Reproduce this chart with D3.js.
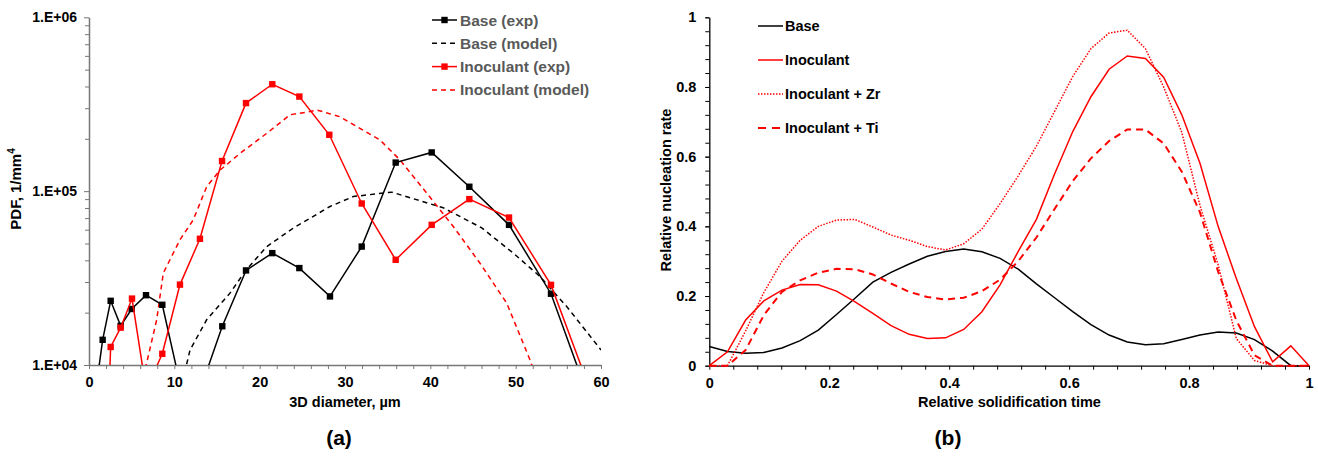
<!DOCTYPE html>
<html>
<head>
<meta charset="utf-8">
<script src="https://cdn.jsdelivr.net/npm/d3@7"></script>
<style>
  body { margin: 0; background: #fff; }
  svg text { font-family: "Liberation Sans", Arial, sans-serif; font-weight: bold; }
</style>
</head>
<body>
<div id="chart"></div>
<script>
// ---- panel (a): PDF vs 3D diameter (log y) ----
var baseExpX = [0.7, 1.6, 2.54, 3.71, 5.0, 6.68, 8.59, 10.5, 12.9, 15.62, 18.4, 21.48, 24.65, 28.24, 31.96, 35.94, 40.16, 44.57, 49.22, 54.14, 59.0];
var baseExpY = [6600, 13960, 23400, 16800, 21000, 25200, 22200, 8500, 6900, 16700, 35000, 44000, 36100, 24800, 48000, 146000, 167000, 106000, 64000, 25700, 5650];

var inocExpX = [1.6, 2.54, 3.71, 5.04, 6.7, 8.59, 10.66, 13.0, 15.59, 18.4, 21.48, 24.65, 28.16, 31.96, 35.94, 40.16, 44.57, 49.22, 54.14, 59.0];
var inocExpY = [800, 12700, 16400, 24100, 7200, 11600, 29000, 53200, 149000, 321000, 412000, 350000, 211000, 84900, 40300, 64000, 90000, 70500, 28900, 6600];

var baseModelX = [11.2, 11.84, 13.79, 16.52, 18.28, 20.83, 23.94, 28.24, 30.97, 35.47, 41.52, 46.02, 49.72, 52.85, 55.98, 60.0];
var baseModelY = [9000, 12200, 18200, 25900, 34500, 48000, 61300, 81600, 93100, 98700, 80200, 61500, 44000, 32300, 21700, 12200];

var inocModelX = [6.6, 7.93, 8.71, 10.66, 12.22, 13.79, 15.35, 17.7, 20.83, 23.56, 25.9, 26.7, 29.4, 34.1, 36.45, 39.58, 42.69, 45.82, 48.95, 51.68, 52.2];
var inocModelY = [9500, 18200, 33800, 52500, 68400, 106000, 132000, 165000, 215000, 275000, 287000, 293000, 268000, 197000, 151000, 97400, 62600, 38500, 22700, 10700, 9000];

var aXTicks = [0, 10, 20, 30, 40, 50, 60];
var aYTicks = [1e4, 1e5, 1e6];
var aYLabels = ["1.E+04", "1.E+05", "1.E+06"];
var aLegend = ["Base (exp)", "Base (model)", "Inoculant (exp)", "Inoculant (model)"];

// ---- panel (b): relative nucleation rate ----
var timeSteps = d3.range(34).map(function(i) { return i / 33; });
var baseRate = [0.055, 0.041, 0.036, 0.038, 0.051, 0.072, 0.102, 0.147, 0.193, 0.240, 0.268, 0.292, 0.314, 0.328, 0.335, 0.327, 0.308, 0.277, 0.235, 0.195, 0.155, 0.118, 0.088, 0.068, 0.060, 0.063, 0.075, 0.088, 0.097, 0.094, 0.075, 0.042, 0, 0];
var inocRate = [0, 0.040, 0.131, 0.186, 0.217, 0.233, 0.232, 0.214, 0.184, 0.150, 0.115, 0.090, 0.078, 0.080, 0.104, 0.155, 0.232, 0.328, 0.420, 0.550, 0.672, 0.772, 0.851, 0.889, 0.882, 0.828, 0.720, 0.581, 0.400, 0.250, 0.112, 0.011, 0.057, 0];
var zrRate = [0, 0, 0.100, 0.210, 0.300, 0.360, 0.400, 0.418, 0.420, 0.398, 0.375, 0.360, 0.342, 0.332, 0.350, 0.392, 0.465, 0.545, 0.630, 0.730, 0.830, 0.910, 0.955, 0.963, 0.910, 0.800, 0.670, 0.460, 0.290, 0.078, 0.015, 0, 0, 0];
var tiRate = [0, 0, 0.045, 0.145, 0.212, 0.245, 0.267, 0.278, 0.277, 0.262, 0.236, 0.212, 0.197, 0.190, 0.195, 0.214, 0.247, 0.300, 0.368, 0.450, 0.530, 0.595, 0.645, 0.678, 0.678, 0.638, 0.557, 0.440, 0.270, 0.130, 0.030, 0, 0, 0];

var bTicks = [0, 0.2, 0.4, 0.6, 0.8, 1];
var bLegend = ["Base", "Inoculant", "Inoculant + Zr", "Inoculant + Ti"];

var W = 1318, H = 457;
var svg = d3.select("#chart").append("svg").attr("width", W).attr("height", H);

function zip(xs, ys) { return xs.map(function(x, i) { return [x, ys[i]]; }); }

// ================= panel (a) =================
var xa = d3.scaleLinear().domain([0, 60]).range([89, 601]);
var ya = d3.scaleLog().domain([1e4, 1e6]).range([365, 17.3]);
var axisColA = "#777";

svg.append("clipPath").attr("id", "clipA")
  .append("rect").attr("x", 89).attr("y", 17).attr("width", 512).attr("height", 348);

// minor y ticks
var minorLog = [];
[1e4, 1e5].forEach(function(d) { for (var k = 2; k <= 9; k++) minorLog.push(d * k); });
svg.append("g").attr("transform", "translate(89,0)")
  .call(d3.axisLeft(ya).tickValues(minorLog).tickFormat("").tickSize(4).tickSizeOuter(0))
  .call(function(g) { g.selectAll("line").attr("stroke", axisColA); g.select(".domain").remove(); });

var gya = svg.append("g").attr("transform", "translate(89,0)")
  .call(d3.axisLeft(ya).tickValues(aYTicks).tickFormat(function(d, i) { return aYLabels[i]; })
    .tickSize(5).tickSizeOuter(0).tickPadding(7));
gya.select(".domain").attr("stroke", axisColA).attr("stroke-width", 1.5);
gya.selectAll("line").attr("stroke", axisColA);
gya.selectAll("text").attr("font-size", 14).attr("fill", "#000");

var gxa = svg.append("g").attr("transform", "translate(0,365)")
  .call(d3.axisBottom(xa).tickValues(d3.range(0, 61, 2))
    .tickFormat(function(d) { return aXTicks.indexOf(d) >= 0 ? d : ""; })
    .tickSize(4).tickSizeOuter(0).tickPadding(7.5));
gxa.select(".domain").attr("stroke", axisColA).attr("stroke-width", 1.5);
gxa.selectAll("line").attr("stroke", axisColA);
gxa.selectAll("text").attr("font-size", 14.5).attr("fill", "#000");

var lineA = d3.line().x(function(d) { return xa(d[0]); }).y(function(d) { return ya(d[1]); });
var plotA = svg.append("g").attr("clip-path", "url(#clipA)");

var seriesA = [
  { pts: zip(baseModelX, baseModelY), color: "#000", dash: "5,4", marker: false },
  { pts: zip(inocModelX, inocModelY), color: "#ff0000", dash: "5,4", marker: false },
  { pts: zip(baseExpX, baseExpY), color: "#000", dash: null, marker: true },
  { pts: zip(inocExpX, inocExpY), color: "#ff0000", dash: null, marker: true }
];
seriesA.forEach(function(s) {
  plotA.append("path").datum(s.pts)
    .attr("d", lineA).attr("fill", "none")
    .attr("stroke", s.color).attr("stroke-width", 1.5)
    .attr("stroke-dasharray", s.dash);
  if (s.marker) {
    plotA.selectAll(null).data(s.pts).enter().append("rect")
      .attr("x", function(d) { return xa(d[0]) - 3.2; })
      .attr("y", function(d) { return ya(d[1]) - 3.2; })
      .attr("width", 6.4).attr("height", 6.4)
      .attr("fill", s.color);
  }
});

// legend (a)
var legA = [
  { color: "#000", dash: null, marker: true },
  { color: "#000", dash: "5,4", marker: false },
  { color: "#ff0000", dash: null, marker: true },
  { color: "#ff0000", dash: "5,4", marker: false }
];
legA.forEach(function(l, i) {
  var y = 20 + i * 23.3;
  svg.append("line").attr("x1", 432).attr("x2", 457).attr("y1", y).attr("y2", y)
    .attr("stroke", l.color).attr("stroke-width", 1.5).attr("stroke-dasharray", l.dash);
  if (l.marker) {
    svg.append("rect").attr("x", 444.5 - 3.2).attr("y", y - 3.2).attr("width", 6.4).attr("height", 6.4).attr("fill", l.color);
  }
  svg.append("text").attr("x", 460).attr("y", y).attr("dy", "0.36em")
    .attr("font-size", 15.5).attr("fill", "#595959").text(aLegend[i]);
});

// titles (a)
var ta = svg.append("text").attr("transform", "translate(21,189) rotate(-90)")
  .attr("text-anchor", "middle").attr("font-size", 15).attr("fill", "#000");
ta.append("tspan").text("PDF, 1/mm");
ta.append("tspan").attr("font-size", 10).attr("dy", "-6").text("4");
svg.append("text").attr("x", 345).attr("y", 402).attr("dy", "0.36em").attr("text-anchor", "middle")
  .attr("font-size", 14.5).text("3D diameter, µm");
svg.append("text").attr("x", 339).attr("y", 437).attr("dy", "0.36em").attr("text-anchor", "middle")
  .attr("font-size", 21).text("(a)");

// ================= panel (b) =================
var xb = d3.scaleLinear().domain([0, 1]).range([709.3, 1309]);
var yb = d3.scaleLinear().domain([0, 1]).range([365.7, 17.3]);

svg.append("g").attr("transform", "translate(709.3,0)")
  .call(d3.axisLeft(yb).tickValues(d3.range(0, 1.001, 0.04)).tickFormat("").tickSize(4).tickSizeOuter(0))
  .call(function(g) { g.select(".domain").remove(); });

var gyb = svg.append("g").attr("transform", "translate(709.3,0)")
  .call(d3.axisLeft(yb).tickValues(bTicks).tickFormat(d3.format("~g")).tickSize(4).tickSizeOuter(0).tickPadding(9));
gyb.select(".domain").attr("stroke-width", 1.3);
gyb.selectAll("text").attr("font-size", 14.5);

var gxb = svg.append("g").attr("transform", "translate(0,365.7)")
  .call(d3.axisBottom(xb).tickValues(d3.range(0, 1.001, 0.04))
    .tickFormat(function(d) {
      var r = Math.round(d * 100) / 100;
      return bTicks.indexOf(r) >= 0 ? d3.format("~g")(r) : "";
    })
    .tickSize(4).tickSizeOuter(0).tickPadding(8));
gxb.select(".domain").attr("stroke-width", 1.3);
gxb.selectAll("text").attr("font-size", 14.5);

var lineB = d3.line().x(function(d) { return xb(d[0]); }).y(function(d) { return yb(d[1]); });

var seriesB = [
  { vals: baseRate, color: "#000", dash: null, w: 1.5 },
  { vals: zrRate, color: "#ff0000", dash: "1.5,1.5", w: 1.5 },
  { vals: tiRate, color: "#ff0000", dash: "7,5", w: 2 },
  { vals: inocRate, color: "#ff0000", dash: null, w: 1.5 }
];
seriesB.forEach(function(s) {
  svg.append("path").datum(zip(timeSteps, s.vals))
    .attr("d", lineB).attr("fill", "none")
    .attr("stroke", s.color).attr("stroke-width", s.w)
    .attr("stroke-dasharray", s.dash);
});

var legB = [
  { color: "#000", dash: null, w: 1.5 },
  { color: "#ff0000", dash: null, w: 1.5 },
  { color: "#ff0000", dash: "1.5,1.5", w: 1.5 },
  { color: "#ff0000", dash: "8,6", w: 2 }
];
legB.forEach(function(l, i) {
  var y = 26 + i * 34;
  svg.append("line").attr("x1", 758).attr("x2", 783).attr("y1", y).attr("y2", y)
    .attr("stroke", l.color).attr("stroke-width", l.w).attr("stroke-dasharray", l.dash);
  svg.append("text").attr("x", 785).attr("y", y).attr("dy", "0.36em")
    .attr("font-size", 14.5).attr("fill", "#000").text(bLegend[i]);
});

svg.append("text").attr("transform", "translate(671,190) rotate(-90)")
  .attr("text-anchor", "middle").attr("font-size", 14.5).text("Relative nucleation rate");
svg.append("text").attr("x", 1009.5).attr("y", 402).attr("dy", "0.36em").attr("text-anchor", "middle")
  .attr("font-size", 14.5).text("Relative solidification time");
svg.append("text").attr("x", 948).attr("y", 437).attr("dy", "0.36em").attr("text-anchor", "middle")
  .attr("font-size", 21).text("(b)");
</script>
</body>
</html>
